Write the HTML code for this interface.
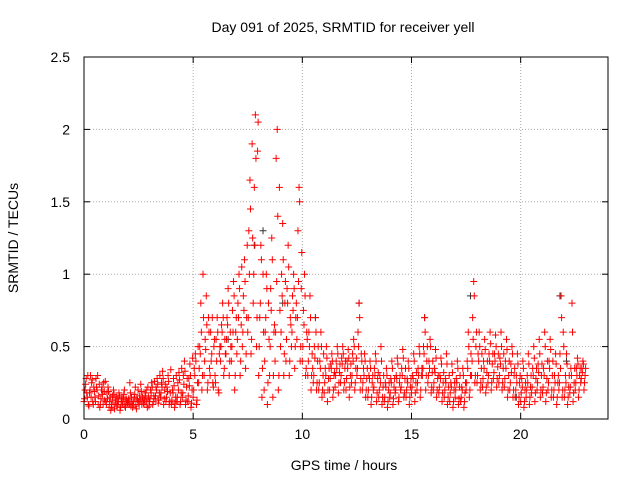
<!DOCTYPE html>
<html><head><meta charset="utf-8"><style>
body{margin:0;background:#fff;}
svg text{font-family:"Liberation Sans",sans-serif;font-size:14px;fill:#000;}
</style></head><body>
<svg id="chart" width="640" height="480">
<text x="343" y="32" text-anchor="middle">Day 091 of 2025, SRMTID for receiver yell</text>
<g id="grid"></g>
<g id="axes"></g>
<g id="pts"></g>
<rect x="84" y="57" width="524" height="362" fill="none" stroke="#000"/>
<text x="344" y="470" text-anchor="middle">GPS time / hours</text>
<text x="18" y="238" text-anchor="middle" transform="rotate(-90 18 238)">SRMTID / TECUs</text>
</svg>
<script>
const xTicks=[0,5,10,15,20];
const yTicks=[0,0.5,1,1.5,2,2.5];
const yTickLabels=["0","0.5","1","1.5","2","2.5"];
const binStart=0, binStep=0.25;
const binValues=[
[0.12,0.2,0.28,0.15,0.1],[0.18,0.3,0.25,0.12,0.22],[0.15,0.28,0.2,0.1,0.24],[0.1,0.2,0.17,0.25,0.13],
[0.12,0.18,0.22,0.08,0.15],[0.1,0.16,0.2,0.07,0.13],[0.09,0.14,0.18,0.06,0.12],[0.1,0.15,0.2,0.08,0.13],
[0.11,0.14,0.25,0.09,0.12],[0.1,0.15,0.22,0.07,0.13],[0.12,0.16,0.24,0.1,0.14],[0.1,0.18,0.2,0.08,0.15],
[0.12,0.2,0.25,0.1,0.16],[0.14,0.22,0.28,0.11,0.18],[0.15,0.25,0.33,0.1,0.2],[0.12,0.22,0.3,0.1,0.18],
[0.1,0.2,0.28,0.08,0.15],[0.12,0.25,0.32,0.1,0.18],[0.15,0.3,0.4,0.1,0.22],[0.12,0.28,0.38,0.08,0.2],
[0.15,0.35,0.45,0.1,0.25],[0.25,0.5,0.8,0.2,1.0],[0.3,0.55,0.85,0.2,0.7],[0.35,0.6,0.45,0.25,0.5],
[0.3,0.55,0.7,0.2,0.45],[0.4,0.65,0.8,0.3,0.55],[0.45,0.7,0.9,0.3,0.6],[0.4,0.75,0.95,0.2,0.6],
[0.45,0.8,1.0,0.3,0.65],[0.5,0.85,1.1,0.35,0.7],[0.6,1.3,1.65,0.45,1.9],[0.8,1.6,2.1,0.5,1.85],
[0.3,0.7,1.2,0.15,1.0],[0.2,0.6,1.0,0.1,0.8],[0.3,0.9,1.25,0.15,0.6],[0.4,1.8,2.0,0.2,1.6],
[0.5,1.0,1.35,0.3,0.8],[0.4,0.9,1.2,0.3,0.7],[0.5,0.85,1.0,0.35,0.7],[0.55,1.3,1.6,0.4,0.9],
[0.4,0.75,1.0,0.3,0.6],[0.3,0.6,0.85,0.2,0.45],[0.25,0.5,0.7,0.2,0.4],[0.2,0.4,0.6,0.15,0.3],
[0.18,0.35,0.5,0.12,0.28],[0.2,0.38,0.45,0.15,0.3],[0.22,0.4,0.5,0.18,0.32],[0.25,0.42,0.5,0.2,0.35],
[0.2,0.4,0.48,0.15,0.3],[0.25,0.45,0.55,0.2,0.35],[0.3,0.6,0.8,0.2,0.45],[0.2,0.35,0.45,0.15,0.28],
[0.15,0.3,0.4,0.1,0.25],[0.2,0.35,0.45,0.12,0.28],[0.15,0.3,0.5,0.1,0.22],[0.12,0.25,0.35,0.08,0.2],
[0.15,0.28,0.4,0.1,0.22],[0.18,0.3,0.42,0.12,0.25],[0.2,0.35,0.48,0.15,0.28],[0.15,0.28,0.4,0.1,0.22],
[0.18,0.3,0.45,0.12,0.25],[0.2,0.35,0.5,0.15,0.3],[0.3,0.5,0.7,0.2,0.4],[0.25,0.4,0.55,0.18,0.32],
[0.2,0.35,0.48,0.15,0.28],[0.18,0.3,0.42,0.12,0.25],[0.15,0.28,0.45,0.1,0.22],[0.12,0.25,0.38,0.08,0.2],
[0.15,0.28,0.4,0.1,0.22],[0.12,0.22,0.35,0.08,0.18],[0.2,0.4,0.6,0.15,0.3],[0.3,0.7,0.95,0.25,0.5],
[0.25,0.45,0.6,0.2,0.35],[0.22,0.4,0.55,0.18,0.32],[0.25,0.45,0.6,0.2,0.38],[0.28,0.45,0.58,0.22,0.36],
[0.25,0.42,0.6,0.2,0.35],[0.22,0.4,0.55,0.15,0.3],[0.2,0.38,0.5,0.15,0.3],[0.15,0.3,0.45,0.1,0.25],
[0.12,0.28,0.4,0.08,0.2],[0.15,0.3,0.45,0.1,0.22],[0.18,0.35,0.5,0.12,0.28],[0.2,0.38,0.55,0.15,0.3],
[0.18,0.35,0.6,0.12,0.28],[0.2,0.4,0.55,0.15,0.3],[0.15,0.3,0.45,0.1,0.25],[0.2,0.45,0.85,0.15,0.6],
[0.15,0.3,0.45,0.1,0.22],[0.18,0.35,0.8,0.12,0.25],[0.2,0.35,0.42,0.15,0.3],[0.25,0.35,0.4,0.2,0.3]
];
const binValues2=[
[0.14,0.24,0.18,0.3,0.09],[0.2,0.15,0.27,0.1,0.19],[0.12,0.22,0.3,0.16,0.08],[0.14,0.22,0.1,0.19,0.26],
[0.1,0.14,0.19,0.12,0.06],[0.08,0.13,0.17,0.11,0.15],[0.1,0.12,0.16,0.08,0.14],[0.12,0.17,0.09,0.14,0.11],
[0.13,0.1,0.18,0.15,0.08],[0.12,0.17,0.09,0.14,0.2],[0.1,0.13,0.19,0.15,0.11],[0.13,0.16,0.12,0.22,0.09],
[0.14,0.18,0.22,0.12,0.26],[0.16,0.2,0.24,0.13,0.3],[0.18,0.22,0.28,0.14,0.24],[0.15,0.19,0.26,0.12,0.34],
[0.13,0.18,0.23,0.11,0.3],[0.15,0.2,0.27,0.12,0.35],[0.18,0.24,0.33,0.13,0.28],[0.16,0.23,0.3,0.11,0.42],
[0.2,0.3,0.4,0.13,0.5],[0.35,0.45,0.6,0.3,0.7],[0.4,0.48,0.65,0.25,0.6],[0.3,0.4,0.7,0.22,0.55],
[0.25,0.4,0.6,0.18,0.5],[0.5,0.6,0.7,0.35,0.45],[0.55,0.65,0.8,0.4,0.5],[0.5,0.6,0.85,0.3,0.7],
[0.55,0.7,0.9,0.4,1.05],[0.6,0.75,0.95,0.45,1.2],[0.7,1.0,1.45,0.55,1.25],[1.0,1.2,1.8,0.7,2.05],
[0.5,0.8,1.1,0.35,0.6],[0.4,0.7,0.9,0.25,0.55],[0.5,0.75,1.1,0.3,0.65],[0.6,0.95,1.4,0.3,0.75],
[0.6,0.85,1.1,0.45,0.95],[0.55,0.8,1.05,0.4,0.65],[0.6,0.75,0.9,0.5,0.8],[0.7,0.95,1.5,0.5,1.15],
[0.5,0.65,0.85,0.35,0.55],[0.4,0.5,0.7,0.3,0.35],[0.3,0.42,0.6,0.25,0.5],[0.25,0.35,0.5,0.2,0.45],
[0.25,0.3,0.42,0.2,0.35],[0.28,0.35,0.4,0.2,0.32],[0.3,0.35,0.45,0.25,0.38],[0.3,0.38,0.45,0.25,0.4],
[0.28,0.35,0.42,0.22,0.38],[0.3,0.4,0.5,0.25,0.42],[0.35,0.5,0.7,0.28,0.4],[0.25,0.3,0.4,0.2,0.35],
[0.2,0.28,0.35,0.15,0.3],[0.22,0.3,0.4,0.18,0.32],[0.2,0.25,0.4,0.15,0.3],[0.15,0.22,0.3,0.12,0.25],
[0.18,0.25,0.35,0.14,0.28],[0.2,0.28,0.38,0.15,0.3],[0.22,0.3,0.42,0.18,0.35],[0.2,0.25,0.35,0.15,0.28],
[0.22,0.28,0.4,0.18,0.32],[0.25,0.3,0.45,0.2,0.35],[0.35,0.45,0.6,0.3,0.5],[0.3,0.35,0.5,0.22,0.4],
[0.25,0.32,0.42,0.2,0.3],[0.22,0.28,0.38,0.18,0.32],[0.2,0.25,0.38,0.15,0.3],[0.18,0.22,0.32,0.12,0.25],
[0.2,0.25,0.35,0.14,0.3],[0.15,0.2,0.3,0.12,0.25],[0.25,0.35,0.5,0.2,0.45],[0.4,0.55,0.85,0.3,0.6],
[0.3,0.4,0.5,0.25,0.45],[0.28,0.35,0.48,0.22,0.4],[0.3,0.4,0.52,0.25,0.45],[0.32,0.4,0.5,0.28,0.45],
[0.3,0.38,0.5,0.25,0.45],[0.28,0.35,0.48,0.2,0.4],[0.25,0.32,0.45,0.2,0.35],[0.2,0.25,0.38,0.15,0.3],
[0.18,0.22,0.35,0.12,0.25],[0.2,0.25,0.38,0.15,0.3],[0.22,0.3,0.42,0.18,0.35],[0.25,0.32,0.45,0.2,0.38],
[0.22,0.3,0.5,0.18,0.4],[0.25,0.35,0.48,0.2,0.4],[0.2,0.25,0.38,0.15,0.3],[0.25,0.35,0.7,0.2,0.5],
[0.2,0.25,0.38,0.15,0.3],[0.22,0.3,0.6,0.18,0.35],[0.25,0.3,0.38,0.2,0.35],[0.28,0.32,0.38,0.25,0.35]
];
const grayTimes=[6.6,7.8,8.2,9.1,10.6,12.6,15.6,17.7,19.8,21.8,22.1];
const grayValues=[0.55,1.2,1.3,0.8,0.7,0.8,0.7,0.85,0.15,0.85,0.4];

const X0=84,X1=608,Y0=419,Y1=57,XMAX=24,YMAX=2.5;
const sx=v=>X0+v/XMAX*(X1-X0);
const sy=v=>Y0-v/YMAX*(Y0-Y1);
const NS="http://www.w3.org/2000/svg";
const grid=document.getElementById('grid'),axes=document.getElementById('axes'),pts=document.getElementById('pts');
function mk(tag,attrs,parent){const e=document.createElementNS(NS,tag);for(const k in attrs)e.setAttribute(k,attrs[k]);parent.appendChild(e);return e;}
xTicks.forEach(t=>{
  const x=sx(t);
  if(t>0){const g=mk('line',{x1:x,x2:x,y1:Y0,y2:Y1,stroke:'#aaa','stroke-dasharray':'1,2'},grid);
  
  }
  mk('line',{x1:x,x2:x,y1:Y0,y2:Y0-6,stroke:'#000'},axes);
  mk('line',{x1:x,x2:x,y1:Y1,y2:Y1+6,stroke:'#000'},axes);
  const l=mk('text',{x:x,y:Y0+20,'text-anchor':'middle'},axes);l.textContent=t;
  
  
});
yTicks.forEach((t,i)=>{
  const y=sy(t);
  if(t>0&&t<YMAX){const g=mk('line',{x1:X0,x2:X1,y1:y,y2:y,stroke:'#aaa','stroke-dasharray':'1,2'},grid);
  
  }
  mk('line',{x1:X0,x2:X0+6,y1:y,y2:y,stroke:'#000'},axes);
  mk('line',{x1:X1,x2:X1-6,y1:y,y2:y,stroke:'#000'},axes);
  const l=mk('text',{x:X0-14,y:y+5,'text-anchor':'end'},axes);l.textContent=yTickLabels[i];
  
  
});
function plus(x,y,color){
  const p=mk('path',{d:`M${x-3.5},${y}h7M${x},${y-3.5}v7`,stroke:color,'stroke-width':1},pts);
  
  
}
grayTimes.forEach((t,i)=>plus(sx(t),sy(grayValues[i]),'#333'));
binValues.forEach((vals,i)=>{
  const t=binStart+i*binStep;
  vals.forEach((v,k)=>plus(sx(t+k*binStep/vals.length),sy(v),'#f00'));
});
binValues2.forEach((vals,i)=>{
  const t=binStart+i*binStep;
  vals.forEach((v,k)=>plus(sx(t+(k+0.5)*binStep/vals.length),sy(v),'#f00'));
});
</script>
</body></html>
